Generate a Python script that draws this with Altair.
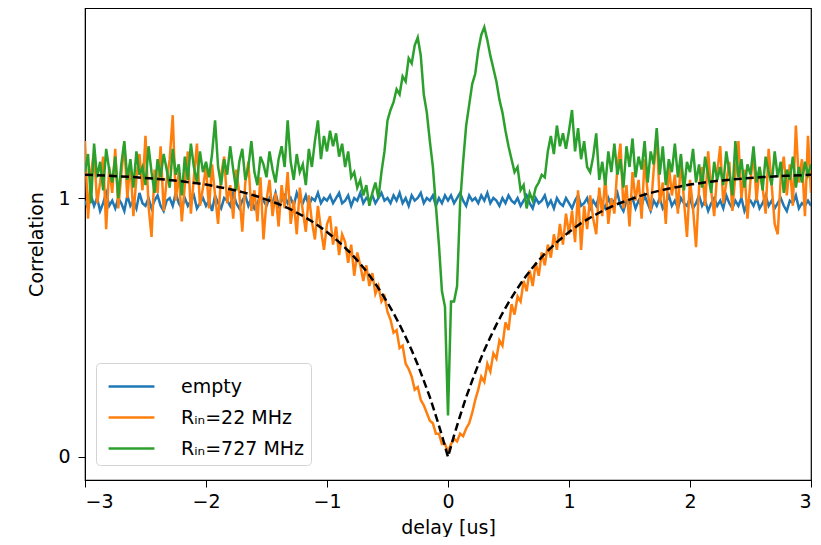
import altair as alt
import pandas as pd

# ---------------- data ----------------
X_START, X_STEP, N_PTS = -3.0, 0.025, 241
DELAY = [round(X_START + X_STEP * i, 3) for i in range(N_PTS)]

LABELS = ["empty", "R\u1d62\u2099=22 MHz", "R\u1d62\u2099=727 MHz"]
COLORS = ["#1f77b4", "#ff7f0e", "#2ca02c"]

EMPTY = [
    0.99, 0.96, 1.01, 0.97, 1.00, 0.95, 0.98, 1.02, 0.97, 0.99, 0.96, 1.00, 0.98, 0.95, 1.01, 0.97, 0.99, 0.96, 1.02, 0.98,
    0.97, 1.00, 0.96, 0.99, 1.01, 0.97, 0.95, 0.99, 1.00, 0.97, 1.02, 0.98, 0.96, 1.00, 0.97, 0.99, 1.01, 0.96, 0.98, 1.00,
    0.97, 0.99, 0.95, 1.01, 0.98, 0.96, 1.00, 0.99, 0.97, 1.02, 0.98, 0.96, 0.99, 1.01, 0.97, 1.00, 0.96, 0.98, 1.01, 0.99,
    0.97, 1.00, 0.98, 1.02, 0.97, 0.99, 1.01, 0.98, 1.00, 0.97, 1.02, 0.99, 0.98, 1.01, 0.97, 1.00, 0.99, 1.02, 0.98, 1.00,
    0.99, 1.01, 0.98, 1.00, 1.02, 0.98, 0.99, 1.01, 0.97, 1.00, 0.99, 1.02, 0.98, 1.00, 0.99, 1.01, 0.98, 1.00, 1.02, 0.99,
    1.00, 0.98, 1.01, 0.99, 1.02, 0.98, 1.00, 0.97, 1.01, 0.99, 1.00, 1.02, 0.98, 1.00, 0.99, 1.01, 0.97, 1.00, 0.98, 1.01,
    0.99, 1.01, 0.98, 1.00, 1.02, 0.99, 0.97, 1.01, 0.99, 1.00, 0.98, 1.01, 0.99, 1.02, 0.98, 1.00, 0.99, 0.97, 1.00, 0.98,
    1.01, 0.99, 0.98, 1.00, 0.97, 0.99, 1.01, 0.98, 0.96, 1.00, 0.98, 0.99, 1.01, 0.97, 0.99, 0.96, 1.00, 0.98, 0.97, 1.00,
    0.98, 0.96, 0.99, 1.01, 0.97, 0.98, 1.00, 0.96, 0.99, 0.97, 1.01, 0.98, 0.96, 1.00, 0.97, 0.99, 1.02, 0.97, 0.95, 0.99,
    0.98, 1.00, 0.96, 0.99, 0.97, 1.01, 0.98, 0.95, 0.99, 0.97, 1.00, 0.96, 0.98, 1.01, 0.97, 0.99, 0.96, 1.00, 0.98, 0.97,
    1.00, 0.96, 0.98, 1.01, 0.97, 0.99, 0.95, 0.98, 1.00, 0.97, 0.99, 0.96, 1.01, 0.98, 0.96, 0.99, 0.97, 1.00, 0.95, 0.98,
    0.99, 0.97, 1.00, 0.96, 0.98, 1.01, 0.97, 0.99, 0.96, 0.98, 1.00, 0.97, 0.95, 0.99, 0.98, 1.01, 0.96, 0.98, 0.97, 0.99,
    0.97,
]

R22 = [
    1.22, 0.92, 1.10, 1.18, 0.98, 1.06, 1.16, 0.88, 1.12, 1.02,
    1.19, 0.96, 1.09, 1.21, 1.00, 1.14, 0.93, 1.08, 1.17, 1.03,
    1.24, 0.97, 0.85, 1.11, 1.02, 1.20, 0.95, 1.07, 1.15, 1.32,
    0.99, 1.10, 0.91, 1.05, 1.18, 0.94, 1.08, 1.21, 0.97, 1.04,
    1.12, 0.96, 1.13, 1.01, 0.90, 1.09, 1.16, 0.98, 1.05, 0.92,
    1.11, 1.02, 0.87, 1.06, 1.14, 0.95, 1.03, 0.91, 1.08, 0.84,
    0.99, 1.07, 0.93, 1.02, 0.89, 1.05, 0.96, 1.10, 0.90, 0.99,
    0.86, 1.04, 0.95, 0.87, 1.01, 0.91, 0.84, 0.97, 0.88, 0.80,
    0.90, 0.93, 0.82, 0.89, 0.78, 0.86, 0.83, 0.75, 0.82, 0.70,
    0.79, 0.74, 0.68, 0.74, 0.66, 0.71, 0.63, 0.66, 0.60, 0.62,
    0.56, 0.53, 0.48, 0.49, 0.42, 0.43, 0.36, 0.34, 0.31, 0.26,
    0.27, 0.22, 0.20, 0.17, 0.14, 0.13, 0.09, 0.09, 0.05, 0.05,
    0.02,
    0.05, 0.07, 0.06, 0.09, 0.08, 0.11, 0.13, 0.17, 0.22, 0.26,
    0.31, 0.29, 0.36, 0.33, 0.40, 0.38, 0.45, 0.43, 0.52, 0.49,
    0.59, 0.55, 0.62, 0.60, 0.68, 0.64, 0.72, 0.66, 0.75, 0.70,
    0.79, 0.74, 0.82, 0.77, 0.86, 0.80, 0.90, 0.82, 0.94, 0.86,
    0.95, 0.83, 1.03, 0.80, 0.97, 0.88, 1.01, 0.92, 0.86, 1.04,
    0.93, 1.08, 0.90, 1.00, 0.94, 1.12, 1.21, 0.96, 1.05, 0.89,
    1.10, 0.99, 1.07, 0.92, 1.15, 1.02, 0.95, 1.11, 1.25, 0.98,
    1.06, 0.90, 1.13, 1.01, 1.09, 0.94, 1.16, 0.99, 0.85, 1.07,
    0.96, 0.81, 1.04, 1.12, 0.97, 1.18, 1.03, 0.93, 1.10, 1.20,
    0.98, 1.06, 1.14, 0.95, 1.09, 1.22, 1.00, 1.11, 0.92, 1.07,
    1.17, 0.99, 1.12, 1.04, 0.94, 1.19, 1.05, 0.90, 0.86, 1.08,
    1.16, 1.01, 1.13, 0.97, 1.28, 1.06, 1.15, 0.93, 1.24, 1.02,
]

R727 = [
    1.10, 1.17, 0.98, 1.21, 1.08, 1.14, 1.03, 1.19, 1.11, 1.06,
    1.16, 1.00, 1.13, 1.22, 1.07, 1.15, 1.04, 1.18, 1.09, 1.12,
    1.05, 1.20, 1.10, 1.02, 1.15, 1.08, 1.17, 1.11, 1.04, 1.19,
    1.09, 1.13, 1.01, 1.16, 1.07, 1.21, 1.12, 1.06, 1.18, 1.10,
    1.14, 1.08, 1.17, 1.30, 1.12, 1.05, 1.15, 1.09, 1.20, 1.11,
    1.03, 1.14, 1.19, 1.07, 1.12, 1.22, 1.10, 1.05, 1.16, 1.13,
    1.08, 1.18, 1.11, 1.06, 1.15, 1.20, 1.12, 1.30, 1.14, 1.07,
    1.17, 1.10, 1.13, 1.05, 1.19, 1.12, 1.22, 1.30, 1.15, 1.24,
    1.18, 1.26, 1.20, 1.25, 1.16, 1.21, 1.12, 1.18, 1.08, 1.10,
    1.04, 1.07, 1.01, 1.05, 0.97, 1.02, 1.06, 1.00, 1.10, 1.18,
    1.30, 1.34, 1.37, 1.42, 1.40, 1.47, 1.45, 1.54, 1.52, 1.59,
    1.62, 1.55, 1.40, 1.33, 1.22, 1.12, 0.97, 0.82, 0.64, 0.58,
    0.16,
    0.60, 0.60, 0.66, 0.98, 1.14, 1.28, 1.36, 1.44, 1.48, 1.57,
    1.63, 1.66, 1.61, 1.55, 1.50, 1.45, 1.38, 1.33, 1.26, 1.20,
    1.15, 1.10, 1.12, 1.03, 1.05, 0.96, 1.02, 0.99, 1.04, 1.06,
    1.09, 1.08, 1.18, 1.24, 1.17, 1.28, 1.20, 1.25, 1.19, 1.26,
    1.34, 1.18, 1.27, 1.15, 1.22, 1.12, 1.10, 1.16, 1.25, 1.07,
    1.14, 1.05, 1.18, 1.10, 1.21, 1.09, 1.15, 1.04, 1.20, 1.12,
    1.23, 1.08, 1.16, 1.11, 1.22, 1.06, 1.18, 1.13, 1.27, 1.09,
    1.20, 1.05, 1.15, 1.10, 1.21, 1.08, 1.17, 1.03, 1.14, 1.10,
    1.19, 1.06, 1.13, 1.04, 1.16, 1.09, 1.02, 1.14, 1.07, 1.12,
    1.05, 1.18, 1.10, 1.01, 1.22, 1.08, 1.15, 1.04, 1.13, 1.09,
    1.20, 1.06, 1.12, 1.03, 1.16, 1.10, 1.05, 1.18, 1.08, 1.14,
    1.02, 1.11, 1.07, 1.16, 1.04, 1.12, 1.06, 1.14, 1.09, 1.13,
]

FIT_X = [-3.0, -2.8, -2.6, -2.4, -2.2, -2.0, -1.9, -1.8, -1.7, -1.6, -1.5, -1.4, -1.3,
         -1.2, -1.1, -1.0, -0.9, -0.8, -0.75, -0.7, -0.65, -0.6, -0.55, -0.5, -0.45,
         -0.4, -0.35, -0.3, -0.25, -0.2, -0.15, -0.1, -0.05, 0.0,
         0.05, 0.1, 0.15, 0.2, 0.25, 0.3, 0.35, 0.4, 0.45, 0.5, 0.55, 0.6, 0.65, 0.7,
         0.75, 0.8, 0.9, 1.0, 1.1, 1.2, 1.3, 1.4, 1.5, 1.6, 1.7, 1.8, 1.9, 2.0, 2.2,
         2.4, 2.6, 2.8, 3.0]
FIT_Y = [1.090, 1.086, 1.081, 1.074, 1.065, 1.052, 1.043, 1.034, 1.023, 1.010, 0.994, 0.977, 0.956,
         0.931, 0.903, 0.869, 0.830, 0.785, 0.759, 0.732, 0.702, 0.669, 0.634, 0.596, 0.555,
         0.511, 0.463, 0.412, 0.356, 0.295, 0.231, 0.159, 0.083, 0.000,
         0.083, 0.159, 0.231, 0.295, 0.356, 0.412, 0.463, 0.511, 0.555, 0.596, 0.634, 0.669, 0.702, 0.732,
         0.759, 0.785, 0.830, 0.869, 0.903, 0.931, 0.956, 0.977, 0.994, 1.010, 1.023, 1.034, 1.043, 1.052, 1.065,
         1.074, 1.081, 1.086, 1.090]

X_TICKS = [-3, -2, -1, 0, 1, 2, 3]
Y_TICKS = [0, 1]

# ---------------- tables ----------------
def series_frame(values, label):
    return pd.DataFrame({"delay": DELAY, "corr": values, "series": label})

frames = [series_frame(v, l) for v, l in zip([EMPTY, R22, R727], LABELS)]
fit_df = pd.DataFrame({"delay": FIT_X, "corr": FIT_Y})

FONT = "DejaVu Sans"

x_enc = alt.X("delay:Q",
              scale=alt.Scale(domain=[-3, 3], nice=False, zero=False),
              axis=alt.Axis(values=X_TICKS, format="d", title="delay [us]"))
y_enc = alt.Y("corr:Q",
              scale=alt.Scale(domain=[-0.089, 1.734], nice=False, zero=False),
              axis=alt.Axis(values=Y_TICKS, format="d", title="Correlation"))

color_enc = alt.Color(
    "series:N",
    scale=alt.Scale(domain=LABELS, range=COLORS),
    legend=alt.Legend(
        title=None, orient="none", legendX=11, legendY=355,
        symbolType="M-1.45,0H1.45", symbolSize=1000, symbolStrokeWidth=2.6,
        symbolOffset=12, symbolFillColor="transparent",
        labelFontSize=19, labelFont=FONT, labelColor="black", labelOffset=32,
        rowPadding=3, padding=6, strokeColor="#d4d4d4", fillColor="white",
        cornerRadius=4,
    ),
)

layers = [
    alt.Chart(df).mark_line(strokeWidth=2.5, clip=True).encode(x=x_enc, y=y_enc, color=color_enc)
    for df in frames
]
fit_layer = alt.Chart(fit_df).mark_line(
    color="black", strokeWidth=2.5, strokeDash=[8, 4], clip=True
).encode(x=x_enc, y=y_enc)

chart = alt.layer(*layers, fit_layer).properties(
    width=726, height=472,
    autosize=alt.AutoSizeParams(type="none"),
    padding={"left": 77, "top": 0, "right": 2, "bottom": 57},
).configure_view(
    stroke="black", strokeWidth=1.2
).configure_axis(
    grid=False, domainColor="black", tickColor="black", tickSize=7,
    labelFont=FONT, labelFontSize=19, labelColor="black",
    titleFont=FONT, titleFontSize=19, titleFontWeight="normal", titleColor="black",
).configure_axisX(
    labelPadding=5, titlePadding=7
).configure_axisY(
    labelPadding=8, titlePadding=11
)

chart.save("out.html", embed_options={"renderer": "svg", "actions": False})
